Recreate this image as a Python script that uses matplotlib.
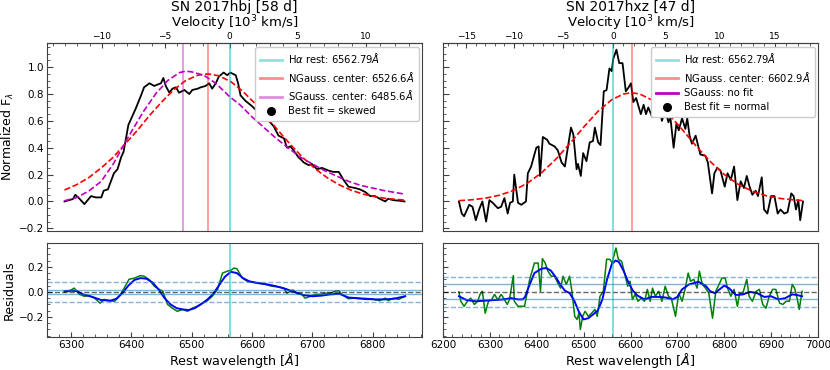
import numpy as np
import matplotlib
matplotlib.use('Agg')
import matplotlib.pyplot as plt
from matplotlib.ticker import AutoMinorLocator, MultipleLocator
from matplotlib.lines import Line2D

# 常量
HA_REST = 6562.79
C_KMS = 299792.458

# ---------------- SN 2017hbj ----------------
hbj_wave = [6289, 6303, 6307, 6314, 6322, 6333, 6341, 6350, 6354, 6361, 6366, 6371, 6377,
            6383, 6387, 6391, 6395, 6402, 6407, 6416, 6421, 6430, 6438, 6443, 6449, 6453,
            6457, 6463, 6468, 6474, 6479, 6488, 6496, 6501, 6510, 6515, 6523, 6529, 6534,
            6540, 6545, 6553, 6559, 6564, 6573, 6577, 6581, 6589, 6600, 6609, 6620, 6628,
            6636, 6644, 6653, 6658, 6664, 6669, 6677, 6686, 6694, 6699, 6708, 6716, 6727,
            6735, 6744, 6752, 6760, 6771, 6779, 6788, 6796, 6804, 6812, 6821, 6826, 6834,
            6845, 6853]
hbj_flux = [0.00, 0.018, 0.05, 0.02, -0.02, 0.04, 0.03, 0.03, 0.08, 0.09, 0.15, 0.21, 0.24,
            0.33, 0.37, 0.47, 0.57, 0.64, 0.69, 0.79, 0.85, 0.88, 0.86, 0.87, 0.88, 0.92,
            0.86, 0.81, 0.84, 0.85, 0.81, 0.83, 0.80, 0.83, 0.84, 0.85, 0.86, 0.88, 0.84,
            0.88, 0.93, 0.96, 0.94, 0.96, 0.94, 0.88, 0.79, 0.75, 0.71, 0.67, 0.64, 0.60,
            0.56, 0.49, 0.47, 0.40, 0.41, 0.38, 0.33, 0.29, 0.27, 0.28, 0.24, 0.25, 0.23,
            0.22, 0.22, 0.16, 0.11, 0.10, 0.09, 0.07, 0.04, 0.04, 0.02, 0.00, 0.02, 0.01,
            0.005, 0.00]

hbj_ngauss_wave = [6289, 6310, 6330, 6350, 6370, 6390, 6410, 6430, 6450, 6470, 6490, 6510,
                   6527, 6545, 6565, 6585, 6605, 6625, 6645, 6665, 6685, 6705, 6725, 6745,
                   6765, 6785, 6805, 6825, 6853]
hbj_ngauss = [0.085, 0.127, 0.18, 0.25, 0.33, 0.43, 0.53, 0.64, 0.74, 0.83, 0.90, 0.94,
              0.95, 0.936, 0.892, 0.819, 0.73, 0.626, 0.52, 0.418, 0.324, 0.243, 0.176,
              0.123, 0.083, 0.054, 0.034, 0.021, 0.01]

hbj_sgauss_wave = [6289, 6310, 6330, 6350, 6370, 6386, 6400, 6420, 6440, 6460, 6480, 6490,
                   6500, 6520, 6540, 6563, 6580, 6600, 6620, 6640, 6660, 6680, 6700, 6720,
                   6740, 6760, 6780, 6800, 6820, 6840, 6853]
hbj_sgauss = [0.005, 0.03, 0.08, 0.15, 0.28, 0.41, 0.52, 0.67, 0.80, 0.90, 0.96, 0.97,
              0.965, 0.94, 0.88, 0.78, 0.72, 0.63, 0.55, 0.47, 0.40, 0.33, 0.28, 0.23,
              0.19, 0.15, 0.12, 0.10, 0.08, 0.065, 0.055]

hbj_res_wave = [6289, 6297, 6305, 6314, 6322, 6330, 6339, 6348, 6355, 6363, 6372, 6380, 6388,
                6396, 6405, 6415, 6421, 6429, 6438, 6446, 6452, 6460, 6468, 6476, 6485, 6493,
                6501, 6509, 6518, 6526, 6534, 6543, 6551, 6559, 6566, 6570, 6575, 6584, 6592,
                6600, 6611, 6622, 6633, 6644, 6653, 6658, 6664, 6668, 6675, 6683, 6688, 6697,
                6705, 6713, 6722, 6730, 6738, 6744, 6749, 6760, 6768, 6779, 6790, 6801, 6812,
                6821, 6826, 6835, 6843, 6854]
hbj_res = [0.0, 0.005, 0.03, -0.02, -0.035, -0.03, -0.05, -0.09, -0.06, -0.07, -0.075, -0.035,
           0.03, 0.10, 0.11, 0.13, 0.125, 0.10, 0.045, 0.02, 0.005, -0.10, -0.13, -0.155, -0.14,
           -0.155, -0.13, -0.115, -0.09, -0.07, -0.035, 0.02, 0.15, 0.165, 0.175, 0.19, 0.185,
           0.11, 0.085, 0.077, 0.07, 0.06, 0.045, 0.04, 0.03, -0.01, 0.005, 0.015, -0.015,
           -0.02, -0.05, -0.035, -0.02, -0.02, -0.01, -0.01, 0.005, 0.01, -0.02, -0.055, -0.05,
           -0.055, -0.06, -0.06, -0.07, -0.05, -0.07, -0.05, -0.06, -0.035]

hbj_smooth_wave = [6289, 6300, 6310, 6320, 6335, 6350, 6365, 6375, 6385, 6395, 6405, 6415,
                   6425, 6435, 6445, 6455, 6465, 6475, 6485, 6495, 6505, 6515, 6525, 6535,
                   6545, 6555, 6565, 6575, 6585, 6595, 6610, 6625, 6640, 6655, 6670, 6685,
                   6700, 6715, 6730, 6745, 6760, 6775, 6790, 6805, 6820, 6835, 6854]
hbj_smooth = [0.005, 0.01, 0.005, -0.02, -0.04, -0.065, -0.07, -0.055, -0.01, 0.05, 0.095,
              0.11, 0.105, 0.075, 0.02, -0.05, -0.10, -0.13, -0.14, -0.145, -0.13, -0.10,
              -0.065, -0.02, 0.05, 0.12, 0.16, 0.15, 0.11, 0.085, 0.07, 0.06, 0.045, 0.025,
              0.0, -0.025, -0.035, -0.03, -0.02, -0.015, -0.045, -0.05, -0.055, -0.06, -0.06,
              -0.055, -0.035]

# ---------------- SN 2017hxz ----------------
hxz_wave = [6234, 6240, 6245, 6256, 6263, 6270, 6277, 6284, 6292, 6299, 6306, 6317, 6324,
            6331, 6338, 6343, 6349, 6352, 6360, 6367, 6377, 6381, 6388, 6399, 6404, 6407,
            6413, 6422, 6427, 6438, 6445, 6453, 6460, 6473, 6478, 6485, 6488, 6494, 6499,
            6506, 6513, 6520, 6524, 6531, 6536, 6543, 6549, 6555, 6560, 6563, 6570, 6576,
            6583, 6590, 6596, 6601, 6606, 6612, 6622, 6628, 6633, 6638, 6646, 6651, 6662,
            6667, 6674, 6681, 6685, 6692, 6698, 6703, 6710, 6717, 6721, 6726, 6731, 6739,
            6749, 6760, 6765, 6774, 6779, 6785, 6792, 6801, 6807, 6814, 6821, 6828, 6835,
            6842, 6848, 6854, 6860, 6867, 6872, 6880, 6885, 6892, 6900, 6907, 6914, 6920,
            6928, 6935, 6943, 6948, 6953, 6958, 6962, 6968]
hxz_flux = [0.0, -0.09, -0.11, -0.025, -0.04, -0.14, -0.06, 0.0, -0.15, 0.01, -0.01, -0.05,
            -0.04, 0.025, -0.09, -0.01, 0.0, 0.20, -0.01, -0.025, 0.0, 0.21, 0.26, 0.40, 0.41,
            0.19, 0.48, 0.46, 0.43, 0.41, 0.38, 0.29, 0.26, 0.55, 0.50, 0.24, 0.28, 0.19, 0.36,
            0.30, 0.44, 0.45, 0.55, 0.44, 0.42, 0.82, 0.83, 0.99, 0.97, 1.06, 1.13, 1.03, 1.03,
            0.82, 0.85, 0.88, 0.74, 0.77, 0.65, 0.72, 0.65, 0.70, 0.63, 0.72, 0.72, 0.60, 0.68,
            0.59, 0.63, 0.40, 0.58, 0.53, 0.62, 0.54, 0.62, 0.49, 0.43, 0.49, 0.35, 0.34, 0.29,
            0.06, 0.21, 0.25, 0.23, 0.11, 0.21, 0.16, 0.26, 0.01, 0.15, 0.10, 0.19, 0.11, 0.05,
            0.08, 0.04, 0.18, -0.06, -0.09, 0.04, 0.04, -0.09, -0.06, -0.09, -0.08, 0.06, 0.04,
            -0.06, 0.01, -0.14, 0.0]

hxz_ngauss_wave = [6234, 6260, 6290, 6320, 6350, 6380, 6410, 6440, 6470, 6500, 6530, 6560,
                   6585, 6603, 6620, 6650, 6680, 6710, 6740, 6770, 6800, 6830, 6860, 6890,
                   6920, 6950, 6968]
hxz_ngauss = [0.006, 0.012, 0.024, 0.046, 0.081, 0.136, 0.213, 0.312, 0.429, 0.553, 0.669,
              0.758, 0.80, 0.81, 0.80, 0.748, 0.655, 0.537, 0.413, 0.298, 0.201, 0.127,
              0.076, 0.042, 0.022, 0.011, 0.007]

hxz_res_wave = [6234, 6238, 6245, 6252, 6259, 6267, 6274, 6279, 6284, 6290, 6297, 6304, 6310,
                6317, 6324, 6331, 6337, 6342, 6350, 6352, 6360, 6374, 6385, 6395, 6403, 6408,
                6412, 6418, 6424, 6431, 6438, 6445, 6451, 6456, 6463, 6470, 6475, 6481, 6486,
                6490, 6493, 6498, 6503, 6510, 6517, 6524, 6529, 6535, 6542, 6549, 6556, 6561,
                6566, 6569, 6574, 6581, 6588, 6594, 6599, 6604, 6610, 6616, 6623, 6630, 6636,
                6642, 6647, 6653, 6660, 6667, 6674, 6681, 6687, 6696, 6703, 6710, 6717, 6723,
                6728, 6735, 6742, 6747, 6753, 6760, 6767, 6775, 6782, 6789, 6795, 6802, 6807,
                6814, 6821, 6828, 6833, 6839, 6848, 6853, 6860, 6868, 6875, 6882, 6889, 6896,
                6903, 6910, 6918, 6925, 6932, 6939, 6945, 6950, 6956, 6960, 6966]
hxz_res = [0.0, -0.075, -0.115, -0.075, -0.05, -0.10, -0.075, -0.02, 0.005, -0.17, -0.075,
           -0.06, -0.02, -0.065, -0.02, -0.06, -0.10, -0.06, 0.13, -0.075, -0.115, -0.115,
           0.10, 0.23, 0.23, 0.005, 0.265, 0.23, 0.165, 0.125, 0.125, 0.07, 0.03, 0.125, 0.06,
           0.125, 0.005, -0.195, -0.22, -0.17, -0.30, -0.195, -0.155, -0.195, -0.17, -0.14,
           -0.195, -0.035, 0.005, 0.26, 0.26, 0.23, 0.31, 0.35, 0.26, 0.245, 0.14, 0.045, 0.085,
           -0.06, -0.02, -0.075, -0.05, -0.075, 0.02, -0.075, 0.03, -0.035, 0.005, -0.075, 0.045,
           -0.035, -0.05, -0.195, -0.01, -0.075, 0.03, 0.15, 0.085, 0.10, 0.03, 0.165, 0.06,
           0.03, -0.01, -0.21, 0.005, 0.06, 0.11, 0.11, 0.03, -0.035, 0.02, -0.115, -0.01,
           -0.02, 0.10, -0.035, -0.075, 0.005, 0.02, -0.10, -0.13, -0.035, 0.02, 0.02, -0.09,
           -0.10, -0.075, -0.075, 0.06, 0.03, -0.06, -0.14, 0.005]

hxz_smooth_wave = [6234, 6250, 6270, 6290, 6310, 6330, 6345, 6360, 6370, 6375, 6385, 6395,
                   6410, 6420, 6430, 6440, 6450, 6460, 6470, 6480, 6490, 6500, 6510, 6520,
                   6530, 6540, 6550, 6560, 6568, 6575, 6585, 6595, 6605, 6615, 6630, 6645,
                   6660, 6675, 6690, 6700, 6710, 6725, 6745, 6760, 6770, 6780, 6790, 6800,
                   6810, 6825, 6840, 6855, 6870, 6885, 6900, 6915, 6930, 6945, 6955, 6966]
hxz_smooth = [-0.035, -0.065, -0.075, -0.07, -0.065, -0.06, -0.05, -0.06, -0.06, -0.04, 0.06,
              0.15, 0.185, 0.19, 0.17, 0.12, 0.06, 0.01, -0.01, -0.07, -0.16, -0.22, -0.21,
              -0.18, -0.15, -0.06, 0.10, 0.22, 0.25, 0.24, 0.17, 0.08, 0.01, -0.03, -0.06,
              -0.04, -0.04, -0.045, -0.06, -0.04, 0.02, 0.06, 0.08, 0.05, 0.005, -0.01, 0.02,
              0.05, 0.03, -0.025, -0.02, 0.0, -0.01, -0.04, -0.035, -0.06, -0.05, -0.02,
              -0.025, -0.035]

panels = [
    dict(title='SN 2017hbj [58 d]', wave=hbj_wave, flux=hbj_flux,
         nwave=hbj_ngauss_wave, nflux=hbj_ngauss, ncenter=6526.6,
         swave=hbj_sgauss_wave, sflux=hbj_sgauss, scenter=6485.6, best='skewed',
         rwave=hbj_res_wave, res=hbj_res, mwave=hbj_smooth_wave, smooth=hbj_smooth,
         sig1=0.018, sig2=0.078, xlim=(6260, 6882)),
    dict(title='SN 2017hxz [47 d]', wave=hxz_wave, flux=hxz_flux,
         nwave=hxz_ngauss_wave, nflux=hxz_ngauss, ncenter=6602.9,
         swave=None, sflux=None, scenter=None, best='normal',
         rwave=hxz_res_wave, res=hxz_res, mwave=hxz_smooth_wave, smooth=hxz_smooth,
         sig1=0.06, sig2=0.122, xlim=(6200, 7000)),
]


def wave2vel(w):
    w = np.asarray(w, dtype=float)
    return C_KMS * (w - HA_REST) / w / 1000.


def vel2wave(v):
    v = np.asarray(v, dtype=float)
    return HA_REST / (1. - v * 1000. / C_KMS)


plt.rcParams['font.family'] = 'DejaVu Sans'
plt.rcParams['axes.edgecolor'] = '0.25'
plt.rcParams['xtick.color'] = '0.25'
plt.rcParams['ytick.color'] = '0.25'
plt.rcParams['xtick.labelcolor'] = 'black'
plt.rcParams['ytick.labelcolor'] = 'black'

fig = plt.figure(figsize=(8.3, 3.7), dpi=100)
lefts = [47 / 830, 443 / 830]
width = 375 / 830

for i, p in enumerate(panels):
    ax = fig.add_axes([lefts[i], 1 - 231 / 370, width, 188 / 370])
    axr = fig.add_axes([lefts[i], 1 - 337 / 370, width, 94 / 370])

    # 光谱与拟合
    ax.plot(p['wave'], p['flux'], color='k', lw=1.3)
    ax.plot(p['nwave'], p['nflux'], color='r', ls='--', lw=1.2)
    ax.axvline(HA_REST, color='c', alpha=0.6, lw=1.2)
    ax.axvline(p['ncenter'], color='r', alpha=0.45, lw=1.2)
    handles = [Line2D([], [], color='c', alpha=0.45, lw=2,
                      label=r'H$\alpha$ rest: 6562.79$\AA$'),
               Line2D([], [], color='r', alpha=0.45, lw=2,
                      label='NGauss. center: %.1f$\\AA$' % p['ncenter'])]
    if p['swave'] is not None:
        ax.plot(p['swave'], p['sflux'], color='m', ls='--', lw=1.2)
        ax.axvline(p['scenter'], color='m', alpha=0.45, lw=1.2)
        handles.append(Line2D([], [], color='m', alpha=0.45, lw=2,
                              label='SGauss. center: %.1f$\\AA$' % p['scenter']))
    else:
        handles.append(Line2D([], [], color='m', lw=2, label='SGauss: no fit'))
    handles.append(Line2D([], [], color='k', marker='o', ls='none', ms=5.5,
                          label='Best fit = %s' % p['best']))
    ax.legend(handles=handles, loc='upper right', fontsize=7.2, handlelength=2.2,
              handletextpad=0.6, labelspacing=0.45, borderaxespad=0.35, borderpad=0.45,
              framealpha=1)

    ax.set_xlim(p['xlim'])
    ax.set_ylim(-0.22, 1.18)
    ax.yaxis.set_major_locator(MultipleLocator(0.2))
    ax.yaxis.set_minor_locator(AutoMinorLocator(4))
    ax.tick_params(axis='x', which='both', bottom=False, labelbottom=False)
    ax.tick_params(axis='y', which='both', direction='in', labelsize=7.5, pad=2)
    ax.tick_params(axis='y', which='major', length=4)
    ax.tick_params(axis='y', which='minor', length=2)

    sec = ax.secondary_xaxis('top', functions=(wave2vel, vel2wave))
    sec.xaxis.set_major_locator(MultipleLocator(5))
    sec.xaxis.set_minor_locator(MultipleLocator(1))
    sec.tick_params(which='both', direction='in', labelsize=6.5, pad=1.5)
    sec.tick_params(which='minor', length=2)
    sec.set_xlabel(r'Velocity [10$^3$ km/s]', fontsize=9.5, labelpad=3)
    ax.set_title(p['title'], fontsize=10, pad=0.5)

    # 残差
    axr.plot(p['rwave'], p['res'], color='g', lw=1.1)
    axr.plot(p['mwave'], p['smooth'], color='b', lw=1.4)
    axr.axhline(0, color='k', ls='--', lw=1, alpha=0.6)
    for s in (p['sig1'], -p['sig1']):
        axr.axhline(s, color='C0', lw=1, alpha=0.55)
    for s in (p['sig2'], -p['sig2']):
        axr.axhline(s, color='C0', ls='--', lw=1, alpha=0.55)
    axr.axvline(HA_REST, color='c', alpha=0.6, lw=1.2)
    axr.set_xlim(p['xlim'])
    axr.set_ylim(-0.36, 0.39)
    axr.yaxis.set_major_locator(MultipleLocator(0.2))
    axr.yaxis.set_minor_locator(AutoMinorLocator(4))
    axr.xaxis.set_major_locator(MultipleLocator(100))
    axr.xaxis.set_minor_locator(AutoMinorLocator(5))
    axr.tick_params(which='both', direction='in', labelsize=7.5, pad=2)
    axr.tick_params(which='minor', length=2)
    axr.set_xlabel(r'Rest wavelength [$\AA$]', fontsize=9.2, labelpad=1)

    if i == 0:
        ax.set_ylabel(r'Normalized F$_\lambda$', fontsize=9, labelpad=2)
        axr.set_ylabel('Residuals', fontsize=9, labelpad=2)
    else:
        ax.tick_params(axis='y', labelleft=False)
        axr.tick_params(axis='y', labelleft=False)

fig.savefig('out.png', dpi=100)
